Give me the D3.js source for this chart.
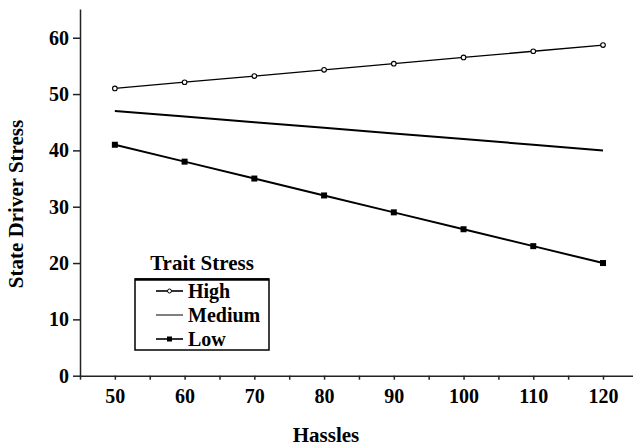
<!DOCTYPE html>
<html>
<head>
<meta charset="utf-8">
<script src="https://cdn.jsdelivr.net/npm/d3@7"></script>
<style>
  html, body { margin: 0; padding: 0; background: #fff; }
  svg { display: block; }
</style>
</head>
<body>
<svg id="chart" width="633" height="447"></svg>
<script>
// Hassles (x) and state driver stress for each trait stress level
var hassles = [50, 60, 70, 80, 90, 100, 110, 120];
var highStress = [51.0, 52.1, 53.2, 54.3, 55.4, 56.5, 57.6, 58.7];
var mediumStress = [47, 46, 45, 44, 43, 42, 41, 40];
var lowStress = [41, 38, 35, 32, 29, 26, 23, 20];
var xTicks = [45, 50, 55, 60, 65, 70, 75, 80, 85, 90, 95, 100, 105, 110, 115, 120];
var xLabels = [50, 60, 70, 80, 90, 100, 110, 120];
var yTicks = [0, 10, 20, 30, 40, 50, 60];
var legendItems = ['High', 'Medium', 'Low'];

(function () {
  'use strict';

  var svg = d3.select('#chart');
  var serif = '"Liberation Serif", "Times New Roman", serif';

  var x = d3.scaleLinear().domain([45, 124.3]).range([80, 633]);
  var y = d3.scaleLinear().domain([0, 65.1]).range([375.7, 9]);

  // Y axis
  var yAxis = svg.append('g').attr('transform', 'translate(80,0)')
    .call(d3.axisLeft(y).tickValues(yTicks).tickSize(7).tickSizeOuter(0).tickPadding(4));
  yAxis.attr('font-family', serif).attr('font-size', 20);
  yAxis.selectAll('text').attr('fill', '#000').attr('font-weight', 'bold');
  yAxis.selectAll('line, path').attr('stroke', '#222').attr('stroke-width', 1.5);

  // X axis, ticks every 5, labels every 10
  var xAxis = svg.append('g').attr('transform', 'translate(0,375.7)')
    .call(d3.axisBottom(x).tickValues(xTicks).tickSize(4).tickSizeOuter(0).tickPadding(9)
      .tickFormat(function (d) { return xLabels.indexOf(d) === -1 ? '' : d; }));
  xAxis.attr('font-family', serif).attr('font-size', 20);
  xAxis.selectAll('text').attr('fill', '#000').attr('font-weight', 'bold');
  xAxis.selectAll('line, path').attr('stroke', '#222').attr('stroke-width', 1.5);

  // Axis titles
  svg.append('text')
    .attr('transform', 'translate(23,204) rotate(-90)')
    .attr('text-anchor', 'middle')
    .attr('font-family', serif).attr('font-weight', 'bold').attr('font-size', 21)
    .text('State Driver Stress');

  svg.append('text')
    .attr('x', 326).attr('y', 442)
    .attr('text-anchor', 'middle')
    .attr('font-family', serif).attr('font-weight', 'bold').attr('font-size', 21)
    .text('Hassles');

  var line = d3.line()
    .x(function (d) { return x(d[0]); })
    .y(function (d) { return y(d[1]); });

  function pairs(vals) { return hassles.map(function (h, i) { return [h, vals[i]]; }); }

  // High: thin line with open circles
  svg.append('path').datum(pairs(highStress))
    .attr('d', line).attr('fill', 'none').attr('stroke', '#000').attr('stroke-width', 1.3);
  svg.selectAll('.hi-pt').data(pairs(highStress)).enter().append('circle')
    .attr('class', 'hi-pt')
    .attr('cx', function (d) { return x(d[0]); })
    .attr('cy', function (d) { return y(d[1]); })
    .attr('r', 2.3).attr('fill', '#fff').attr('stroke', '#000').attr('stroke-width', 1.1);

  // Medium: plain line
  svg.append('path').datum(pairs(mediumStress))
    .attr('d', line).attr('fill', 'none').attr('stroke', '#000').attr('stroke-width', 2);

  // Low: thicker line with filled squares
  svg.append('path').datum(pairs(lowStress))
    .attr('d', line).attr('fill', 'none').attr('stroke', '#000').attr('stroke-width', 2);
  svg.selectAll('.lo-pt').data(pairs(lowStress)).enter().append('rect')
    .attr('class', 'lo-pt')
    .attr('x', function (d) { return x(d[0]) - 3; })
    .attr('y', function (d) { return y(d[1]) - 3; })
    .attr('width', 6).attr('height', 6).attr('fill', '#000');

  // Legend
  svg.append('text')
    .attr('x', 202).attr('y', 270).attr('text-anchor', 'middle')
    .attr('font-family', serif).attr('font-weight', 'bold').attr('font-size', 21)
    .text('Trait Stress');

  var lg = svg.append('g').attr('transform', 'translate(135,279)');
  lg.append('rect').attr('x', 0).attr('y', 0).attr('width', 134).attr('height', 71)
    .attr('fill', '#fff').attr('stroke', '#000').attr('stroke-width', 1.5);
  lg.append('line').attr('x1', 0).attr('x2', 134).attr('y1', 0.5).attr('y2', 0.5)
    .attr('stroke', '#000').attr('stroke-width', 2.5);

  legendItems.forEach(function (name, i) {
    var cy = 12 + i * 24;
    lg.append('line').attr('x1', 21).attr('x2', 48).attr('y1', cy).attr('y2', cy)
      .attr('stroke', '#000').attr('stroke-width', i === 1 ? 1 : 1.6);
    if (i === 0) {
      lg.append('circle').attr('cx', 34.5).attr('cy', cy).attr('r', 2)
        .attr('fill', '#fff').attr('stroke', '#000').attr('stroke-width', 1);
    } else if (i === 2) {
      lg.append('rect').attr('x', 32).attr('y', cy - 2.5).attr('width', 5).attr('height', 5).attr('fill', '#000');
    }
    lg.append('text').attr('x', 53).attr('y', cy + 6.5)
      .attr('font-family', serif).attr('font-weight', 'bold').attr('font-size', 20)
      .text(name);
  });
})();
</script>
</body>
</html>
